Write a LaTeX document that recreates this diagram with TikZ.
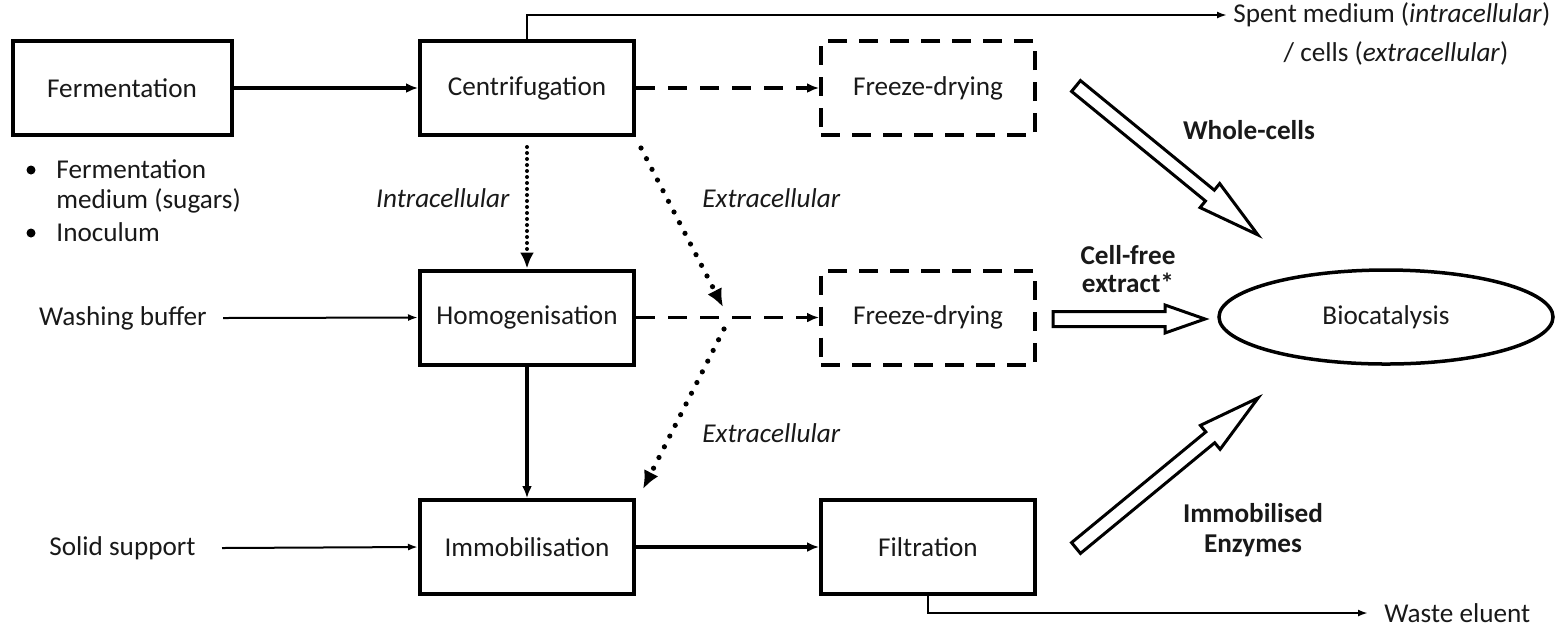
\documentclass[tikz,border=0pt]{standalone}
\usepackage{fontspec}
\setmainfont{Carlito}
\usetikzlibrary{arrows.meta,shapes.geometric,calc}

% Outlined block arrow: start point, angle, length, head length, head half-width, shaft half-width
\newcommand{\blockarrow}[6]{%
  \begin{scope}[shift={(#1)}, rotate=#2]
    \draw[hollow] (0,-#6) -- ({#3-#4},-#6) -- ({#3-#4},-#5) -- (#3,0)
      -- ({#3-#4},#5) -- ({#3-#4},#6) -- (0,#6) -- cycle;
  \end{scope}}

\begin{document}
\begin{tikzpicture}[x=0.5pt,y=-0.5pt,
  every node/.style={font=\fontsize{13.6}{14}\selectfont, text=black!90},
  stage/.style={draw, line width=2pt, minimum width=107pt, minimum height=47pt, inner sep=0pt},
  drystage/.style={stage, dash pattern=on 9.5pt off 6pt},
  flow/.style={line width=1.75pt, -{Latex[length=6pt,width=5pt]}},
  dflow/.style={flow, dash pattern=on 9.5pt off 6.5pt},
  feed/.style={line width=1pt, -{Latex[length=5pt,width=3.5pt]}},
  dotsv/.style={line width=2pt, line cap=round, dash pattern=on 0pt off 3pt, -{Latex[length=8pt,width=7pt]}},
  dotsd/.style={line width=2.6pt, line cap=round, dash pattern=on 0pt off 6pt, -{Latex[length=9pt,width=8pt]}},
  hollow/.style={draw, line width=1.5pt, fill=white, line join=miter},
  lbl/.style={inner sep=0pt},
]
\useasboundingbox (0,0) rectangle (1568,629);

% process stages
\node[stage, minimum width=109.5pt] (ferm) at (122,88) {Fermentation};
\node[stage] (cent) at (527,88) {Centrifugation};
\node[drystage] (fd1) at (928,88) {Freeze-drying};
\node[stage] (homo) at (527,317.5) {Homogenisation};
\node[drystage] (fd2) at (928,317.5) {Freeze-drying};
\node[stage] (immo) at (527,547) {Immobilisation};
\node[stage] (filt) at (928,547) {Filtration};
\node[ellipse, draw, line width=1.75pt, minimum width=167pt, minimum height=47pt, inner sep=0pt] (bio) at (1386,317) {Biocatalysis};

% inputs and outputs
\node[lbl, anchor=west] (spent) at (1233,15) {Spent medium (\textit{intracellular})};
\node[lbl] (cells) at (1396,53) {/ cells (\textit{extracellular})};
\node[circle, fill=black, inner sep=0pt, minimum size=4.5pt] (b1) at (31,170) {};
\node[circle, fill=black, inner sep=0pt, minimum size=4.5pt] (b2) at (31,233) {};
\node[lbl, anchor=base west] (fm1) at (56,178) {Fermentation};
\node[lbl, anchor=base west] (fm2) at (56,208) {medium (sugars)};
\node[lbl, anchor=base west] (inoc) at (56,241) {Inoculum};
\node[lbl, anchor=east] (wash) at (207,318) {Washing buffer};
\node[lbl, anchor=east] (solid) at (196,548) {Solid support};
\node[lbl, anchor=west] (waste) at (1384,613) {Waste eluent};

% route labels
\node[lbl, anchor=east] (intra) at (510,198) {\textit{Intracellular}};
\node[lbl, anchor=west] (extra1) at (702,198) {\textit{Extracellular}};
\node[lbl, anchor=west] (extra2) at (702,433) {\textit{Extracellular}};
\node[lbl] (wcl) at (1249,130) {\textbf{Whole-cells}};
\node[lbl, align=center] (cfl) at (1128,269) {\textbf{Cell-free}\\\textbf{extract*}};
\node[lbl, align=center] (iel) at (1253,530) {\textbf{Immobilised}\\[1pt]\textbf{Enzymes}};

% main flow
\draw[flow] (ferm.east) -- (cent.west);
\draw[dflow] (cent.east) -- (fd1.west);
\draw[dflow] (homo.east) -- (fd2.west);
\draw[flow] (homo.south) -- (immo.north);
\draw[flow] (immo.east) -- (filt.west);

% intra-/extracellular routes
\draw[dotsv, shorten <=5pt] (cent.south) -- (homo.north);
\coordinate (xa) at (723,307);
\coordinate (xb) at (724,329);
\draw[dotsd] ($(cent.south east)+(5,11)$) -- (xa);
\draw[dotsd] (xb) -- ($(immo.north east)+(7,-9)$);

% feeds and side streams
\draw[feed] ([xshift=8pt]wash.east) -- (homo.west);
\draw[feed] ([xshift=13pt]solid.east) -- (immo.west);
\draw[feed] (cent.north) |- ([xshift=-3pt]spent.west);
\draw[feed] (filt.south) |- ([xshift=-8pt]waste.west);

% product streams to biocatalysis
\coordinate (wc0) at (1076,86);
\coordinate (cf0) at (1053,319);
\coordinate (ie0) at (1076,548);
\blockarrow{wc0}{-39.3}{235}{62}{15.5}{7}
\blockarrow{cf0}{0}{152}{40}{14}{7.5}
\blockarrow{ie0}{39.5}{236}{62}{15.5}{7}
\end{tikzpicture}
\end{document}
